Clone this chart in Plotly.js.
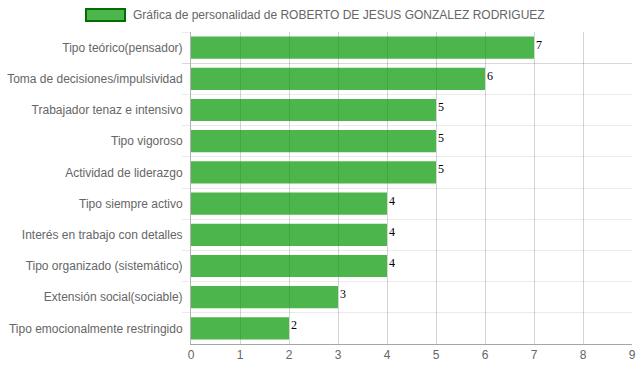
<!DOCTYPE html>
<html>
<head>
<meta charset="utf-8">
<script src="https://cdn.plot.ly/plotly-3.0.1.min.js"></script>
<style>html,body{margin:0;padding:0;background:#fff;}#chart{width:639px;height:372px;}</style>
</head>
<body>
<div id="chart"></div>
<script>
var seriesName = "Gráfica de personalidad de ROBERTO DE JESUS GONZALEZ RODRIGUEZ";
var categories = [
  "Tipo teórico(pensador)",
  "Toma de decisiones/impulsividad",
  "Trabajador tenaz e intensivo",
  "Tipo vigoroso",
  "Actividad de liderazgo",
  "Tipo siempre activo",
  "Interés en trabajo con detalles",
  "Tipo organizado (sistemático)",
  "Extensión social(sociable)",
  "Tipo emocionalmente restringido"
];
var values = [7, 6, 5, 5, 5, 4, 4, 4, 3, 2];
var xTicks = [0, 1, 2, 3, 4, 5, 6, 7, 8, 9];

var trace = {
  type: "bar",
  orientation: "h",
  x: values,
  y: categories,
  name: seriesName,
  marker: {color: "rgba(0,150,0,0.7)", line: {width: 0}},
  hoverinfo: "x+y",
  showlegend: false
};

var valueLabels = values.map(function (v, i) {
  return {
    x: v, y: categories[i], xref: "x", yref: "y",
    text: String(v), showarrow: false,
    xanchor: "left", yanchor: "middle",
    xshift: 0, yshift: 3,
    font: {family: "Liberation Serif, Times New Roman, serif", size: 12, color: "#000"}
  };
});

var layout = {
  width: 639, height: 372,
  margin: {l: 191, r: 7, t: 32, b: 28},
  paper_bgcolor: "#fff", plot_bgcolor: "#fff",
  font: {family: "Liberation Sans, Arial, sans-serif", size: 12, color: "#666"},
  bargap: 0.29,
  showlegend: false,
  xaxis: {
    range: [0, 9],
    tickvals: xTicks,
    ticktext: xTicks.map(String),
    showgrid: true,
    gridcolor: "rgba(0,0,0,0.17)",
    gridwidth: 1,
    zeroline: false,
    showline: true,
    linecolor: "rgba(0,0,0,0.35)",
    linewidth: 1,
    ticks: "",
    tickfont: {size: 12, color: "#666"},
    fixedrange: true
  },
  yaxis: {
    type: "category",
    autorange: "reversed",
    tickson: "boundaries",
    showgrid: true,
    gridcolor: "rgba(0,0,0,0.08)",
    ticks: "outside",
    ticklen: 8,
    tickcolor: "rgba(0,0,0,0.08)",
    ticklabelstandoff: 5,
    showline: true,
    linecolor: "rgba(0,0,0,0.3)",
    zeroline: false,
    tickfont: {size: 12, color: "#666"},
    fixedrange: true
  },
  shapes: [{
    type: "rect", xref: "paper", yref: "paper",
    x0: (86 - 191) / 441, x1: (125 - 191) / 441,
    y0: (372 - 28 - 21) / 312, y1: (372 - 28 - 9) / 312,
    fillcolor: "rgba(0,150,0,0.7)",
    line: {color: "rgb(0,110,0)", width: 2}
  }],
  annotations: [{
    xref: "paper", yref: "paper",
    x: (131 - 191) / 441, y: (372 - 28 - 15) / 312,
    xanchor: "left", yanchor: "middle",
    text: seriesName, showarrow: false,
    font: {size: 12, color: "#666"}
  }].concat(valueLabels)
};

Plotly.newPlot("chart", [trace], layout, {displayModeBar: false, staticPlot: true});
</script>
</body>
</html>
